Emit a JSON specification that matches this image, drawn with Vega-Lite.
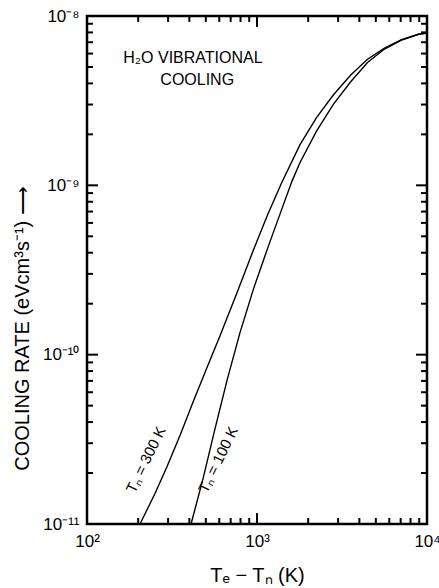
{
  "$schema": "https://vega.github.io/schema/vega-lite/v6.json",
  "width": 340,
  "height": 508,
  "autosize": "none",
  "padding": {"left": 87, "top": 16, "right": 12, "bottom": 64},
  "background": "white",
  "config": {
    "font": "Liberation Sans",
    "view": {"stroke": "black", "strokeWidth": 2.5},
    "axis": {"grid": false, "domain": false, "ticks": false, "labelColor": "black", "titleColor": "black", "labelFontSize": 17, "titleFontSize": 20, "titleFontWeight": "normal"},
    "rule": {"color": "black", "strokeWidth": 2}
  },
  "datasets": {
    "curves": [
      {"series": "300 K", "te": 205.1, "rate": 1.0e-11},
      {"series": "300 K", "te": 251.2, "rate": 1.514e-11},
      {"series": "300 K", "te": 295.8, "rate": 2.188e-11},
      {"series": "300 K", "te": 354.8, "rate": 3.388e-11},
      {"series": "300 K", "te": 420.7, "rate": 5.248e-11},
      {"series": "300 K", "te": 501.2, "rate": 8.128e-11},
      {"series": "300 K", "te": 605.3, "rate": 1.288e-10},
      {"series": "300 K", "te": 758.6, "rate": 2.291e-10},
      {"series": "300 K", "te": 946.2, "rate": 4.074e-10},
      {"series": "300 K", "te": 1148, "rate": 6.607e-10},
      {"series": "300 K", "te": 1403, "rate": 1.047e-9},
      {"series": "300 K", "te": 1791, "rate": 1.738e-9},
      {"series": "300 K", "te": 2239, "rate": 2.512e-9},
      {"series": "300 K", "te": 2818, "rate": 3.428e-9},
      {"series": "300 K", "te": 3548, "rate": 4.467e-9},
      {"series": "300 K", "te": 4467, "rate": 5.559e-9},
      {"series": "300 K", "te": 5623, "rate": 6.457e-9},
      {"series": "300 K", "te": 7079, "rate": 7.244e-9},
      {"series": "300 K", "te": 8913, "rate": 7.798e-9},
      {"series": "300 K", "te": 10000, "rate": 7.943e-9},
      {"series": "100 K", "te": 409.3, "rate": 1.0e-11},
      {"series": "100 K", "te": 480.8, "rate": 1.841e-11},
      {"series": "100 K", "te": 562.3, "rate": 3.548e-11},
      {"series": "100 K", "te": 666.8, "rate": 7.079e-11},
      {"series": "100 K", "te": 794.3, "rate": 1.349e-10},
      {"series": "100 K", "te": 955.0, "rate": 2.455e-10},
      {"series": "100 K", "te": 1161, "rate": 4.315e-10},
      {"series": "100 K", "te": 1365, "rate": 6.761e-10},
      {"series": "100 K", "te": 1607, "rate": 1.059e-9},
      {"series": "100 K", "te": 1791, "rate": 1.365e-9},
      {"series": "100 K", "te": 2239, "rate": 2.089e-9},
      {"series": "100 K", "te": 2818, "rate": 3.02e-9},
      {"series": "100 K", "te": 3548, "rate": 4.074e-9},
      {"series": "100 K", "te": 4467, "rate": 5.309e-9},
      {"series": "100 K", "te": 5623, "rate": 6.383e-9},
      {"series": "100 K", "te": 7079, "rate": 7.211e-9},
      {"series": "100 K", "te": 8913, "rate": 7.798e-9},
      {"series": "100 K", "te": 10000, "rate": 7.943e-9}
    ],
    "heading": [
      {"label": "H₂O VIBRATIONAL", "te": 420, "rate": 5.65e-9},
      {"label": "COOLING", "te": 445, "rate": 4.19e-9}
    ],
    "curvelabels": [
      {"label": "Tₙ = 300 K", "te": 222, "rate": 2.4e-11},
      {"label": "Tₙ = 100 K", "te": 592, "rate": 2.4e-11}
    ],
    "xmajor": [{"v": 100}, {"v": 1000}, {"v": 10000}],
    "xminor": [{"v": 200}, {"v": 300}, {"v": 400}, {"v": 500}, {"v": 600}, {"v": 700}, {"v": 800}, {"v": 900}, {"v": 2000}, {"v": 3000}, {"v": 4000}, {"v": 5000}, {"v": 6000}, {"v": 7000}, {"v": 8000}, {"v": 9000}],
    "ymajor": [{"v": 1e-11}, {"v": 1e-10}, {"v": 1e-9}, {"v": 1e-8}],
    "yminor": [{"v": 2e-11}, {"v": 3e-11}, {"v": 4e-11}, {"v": 5e-11}, {"v": 6e-11}, {"v": 7e-11}, {"v": 8e-11}, {"v": 9e-11}, {"v": 2e-10}, {"v": 3e-10}, {"v": 4e-10}, {"v": 5e-10}, {"v": 6e-10}, {"v": 7e-10}, {"v": 8e-10}, {"v": 9e-10}, {"v": 2e-9}, {"v": 3e-9}, {"v": 4e-9}, {"v": 5e-9}, {"v": 6e-9}, {"v": 7e-9}, {"v": 8e-9}, {"v": 9e-9}]
  },
  "layer": [
    {
      "data": {"name": "curves"},
      "mark": {"type": "line", "stroke": "black", "strokeWidth": 1.4},
      "encoding": {
        "x": {"field": "te", "type": "quantitative", "scale": {"type": "log", "domain": [100, 10000], "nice": false},
          "axis": {"orient": "bottom", "values": [100, 1000, 10000], "labelPadding": 9, "labelBaseline": "top",
            "labelExpr": "datum.value == 100 ? '10²' : datum.value == 1000 ? '10³' : '10⁴'",
            "labelFlush": false,
            "title": "Tₑ − Tₙ (K)", "titleY": 51, "titleBaseline": "middle"}},
        "y": {"field": "rate", "type": "quantitative", "scale": {"type": "log", "domain": [1e-11, 1e-8], "nice": false},
          "axis": {"orient": "left", "values": [1e-11, 1e-10, 1e-9, 1e-8], "labelPadding": 8,
            "labelExpr": "round(log(datum.value)/LN10) == -8 ? '10⁻⁸' : round(log(datum.value)/LN10) == -9 ? '10⁻⁹' : round(log(datum.value)/LN10) == -10 ? '10⁻¹⁰' : '10⁻¹¹'",
            "labelFlush": false,
            "title": "COOLING RATE  (eVcm³s⁻¹) ⟶", "titleAngle": 270, "titleX": -65, "titleY": 312, "titleAlign": "center", "titleBaseline": "middle"}},
        "detail": {"field": "series"}
      }
    },
    {
      "data": {"name": "heading"},
      "mark": {"type": "text", "fontSize": 16, "align": "center", "baseline": "middle", "color": "black"},
      "encoding": {
        "text": {"field": "label"},
        "x": {"field": "te", "type": "quantitative"},
        "y": {"field": "rate", "type": "quantitative"}
      }
    },
    {
      "data": {"name": "curvelabels"},
      "mark": {"type": "text", "fontSize": 15, "align": "center", "baseline": "middle", "angle": 296, "color": "black"},
      "encoding": {
        "text": {"field": "label"},
        "x": {"field": "te", "type": "quantitative"},
        "y": {"field": "rate", "type": "quantitative"}
      }
    },
    {
      "data": {"name": "xmajor"},
      "mark": {"type": "rule"},
      "encoding": {"x": {"field": "v", "type": "quantitative"}, "y": {"datum": 1e-11, "type": "quantitative"}, "y2": {"datum": 1.161e-11}}
    },
    {
      "data": {"name": "xminor"},
      "mark": {"type": "rule"},
      "encoding": {"x": {"field": "v", "type": "quantitative"}, "y": {"datum": 1e-11, "type": "quantitative"}, "y2": {"datum": 1.085e-11}}
    },
    {
      "data": {"name": "xmajor"},
      "mark": {"type": "rule"},
      "encoding": {"x": {"field": "v", "type": "quantitative"}, "y": {"datum": 1e-8, "type": "quantitative"}, "y2": {"datum": 8.61e-9}}
    },
    {
      "data": {"name": "xminor"},
      "mark": {"type": "rule"},
      "encoding": {"x": {"field": "v", "type": "quantitative"}, "y": {"datum": 1e-8, "type": "quantitative"}, "y2": {"datum": 9.22e-9}}
    },
    {
      "data": {"name": "ymajor"},
      "mark": {"type": "rule"},
      "encoding": {"y": {"field": "v", "type": "quantitative"}, "x": {"datum": 100, "type": "quantitative"}, "x2": {"datum": 116}}
    },
    {
      "data": {"name": "yminor"},
      "mark": {"type": "rule"},
      "encoding": {"y": {"field": "v", "type": "quantitative"}, "x": {"datum": 100, "type": "quantitative"}, "x2": {"datum": 108.5}}
    },
    {
      "data": {"name": "ymajor"},
      "mark": {"type": "rule"},
      "encoding": {"y": {"field": "v", "type": "quantitative"}, "x": {"datum": 10000, "type": "quantitative"}, "x2": {"datum": 8621}}
    },
    {
      "data": {"name": "yminor"},
      "mark": {"type": "rule"},
      "encoding": {"y": {"field": "v", "type": "quantitative"}, "x": {"datum": 10000, "type": "quantitative"}, "x2": {"datum": 9219}}
    }
  ]
}
